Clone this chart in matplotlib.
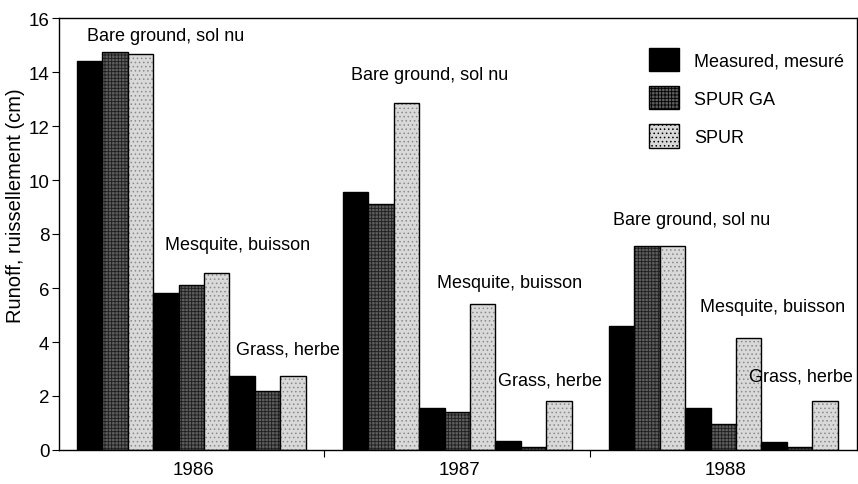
import matplotlib
matplotlib.use('Agg')
import matplotlib.pyplot as plt
from matplotlib.patches import Patch

plt.rcParams['font.family'] = ['Liberation Sans', 'DejaVu Sans']
plt.rcParams['hatch.linewidth'] = 0.6

# Data
years = ['1986', '1987', '1988']
covers = ['Bare ground, sol nu', 'Mesquite, buisson', 'Grass, herbe']
series_names = ['Measured, mesuré', 'SPUR GA', 'SPUR']
measured = [[14.4, 5.8, 2.75], [9.55, 1.55, 0.35], [4.6, 1.55, 0.3]]
spur_ga = [[14.75, 6.1, 2.2], [9.1, 1.4, 0.1], [7.55, 0.95, 0.1]]
spur = [[14.65, 6.55, 2.75], [12.85, 5.4, 1.8], [7.55, 4.15, 1.8]]

# label placement (x offset in bar units from group start, y in cm)
label_pos = [
    [(0.4, 15.35), (3.45, 7.6), (6.25, 3.75)],
    [(0.3, 13.9), (3.7, 6.2), (6.1, 2.6)],
    [(0.15, 8.55), (3.6, 5.3), (5.5, 2.75)],
]

# styles: face, hatch, hatch colour
styles = [('black', None, 'black'),
          ('#5e5e5e', '+++++', '#1e1e1e'),
          ('#d9d9d9', '....', '#8a8a8a')]

group_step = 10.47
fs = 13

fig = plt.figure(figsize=(8.58, 4.85), dpi=100)
ax = fig.add_axes([59 / 858, 34 / 485, (857 - 59) / 858, (451 - 19) / 485])

data = [measured, spur_ga, spur]
for g in range(len(years)):
    start = g * group_step
    for c in range(len(covers)):
        for s in range(3):
            x = start + c * 3 + s + 0.5
            face, hatch, hcol = styles[s]
            val = data[s][g][c]
            ax.bar(x, val, width=1.0, color=face, hatch=hatch,
                   edgecolor=hcol, linewidth=0)
            ax.bar(x, val, width=1.0, fill=False, edgecolor='black',
                   linewidth=1.0)
        lx, ly = label_pos[g][c]
        ax.text(start + lx, ly, covers[c], fontsize=fs, va='center',
                ha='left')

ax.set_xlim(-0.71, 30.7)
ax.set_ylim(0, 16)
ax.set_yticks(range(0, 17, 2))
ax.tick_params(axis='y', direction='out', length=5, labelsize=13.5, pad=2)

gap_ticks = [9 + (group_step - 9) / 2, group_step + 9 + (group_step - 9) / 2]
ax.set_xticks(gap_ticks)
ax.set_xticklabels([])
ax.tick_params(axis='x', direction='out', length=5)
centers = [g * group_step + 4.6 for g in range(len(years))]
ax.set_xticks(centers, minor=True)
ax.set_xticklabels(years, minor=True, fontsize=13.5)
ax.tick_params(axis='x', which='minor', length=0, pad=8)

ax.set_ylabel('Runoff, ruissellement (cm)', fontsize=14.5)
ax.yaxis.set_label_coords(-0.043, 0.569)

for sp in ax.spines.values():
    sp.set_linewidth(1.0)

handles = [Patch(facecolor=styles[i][0], hatch=styles[i][1],
                 edgecolor='black', linewidth=1.0) for i in range(3)]
ax.legend(handles, series_names, loc='upper right', frameon=False,
          fontsize=fs, handlelength=1.66, handleheight=1.6,
          labelspacing=0.83, handletextpad=0.83, borderpad=0.4,
          bbox_to_anchor=(1.004, 0.968))

fig.savefig('out.png', dpi=100)
